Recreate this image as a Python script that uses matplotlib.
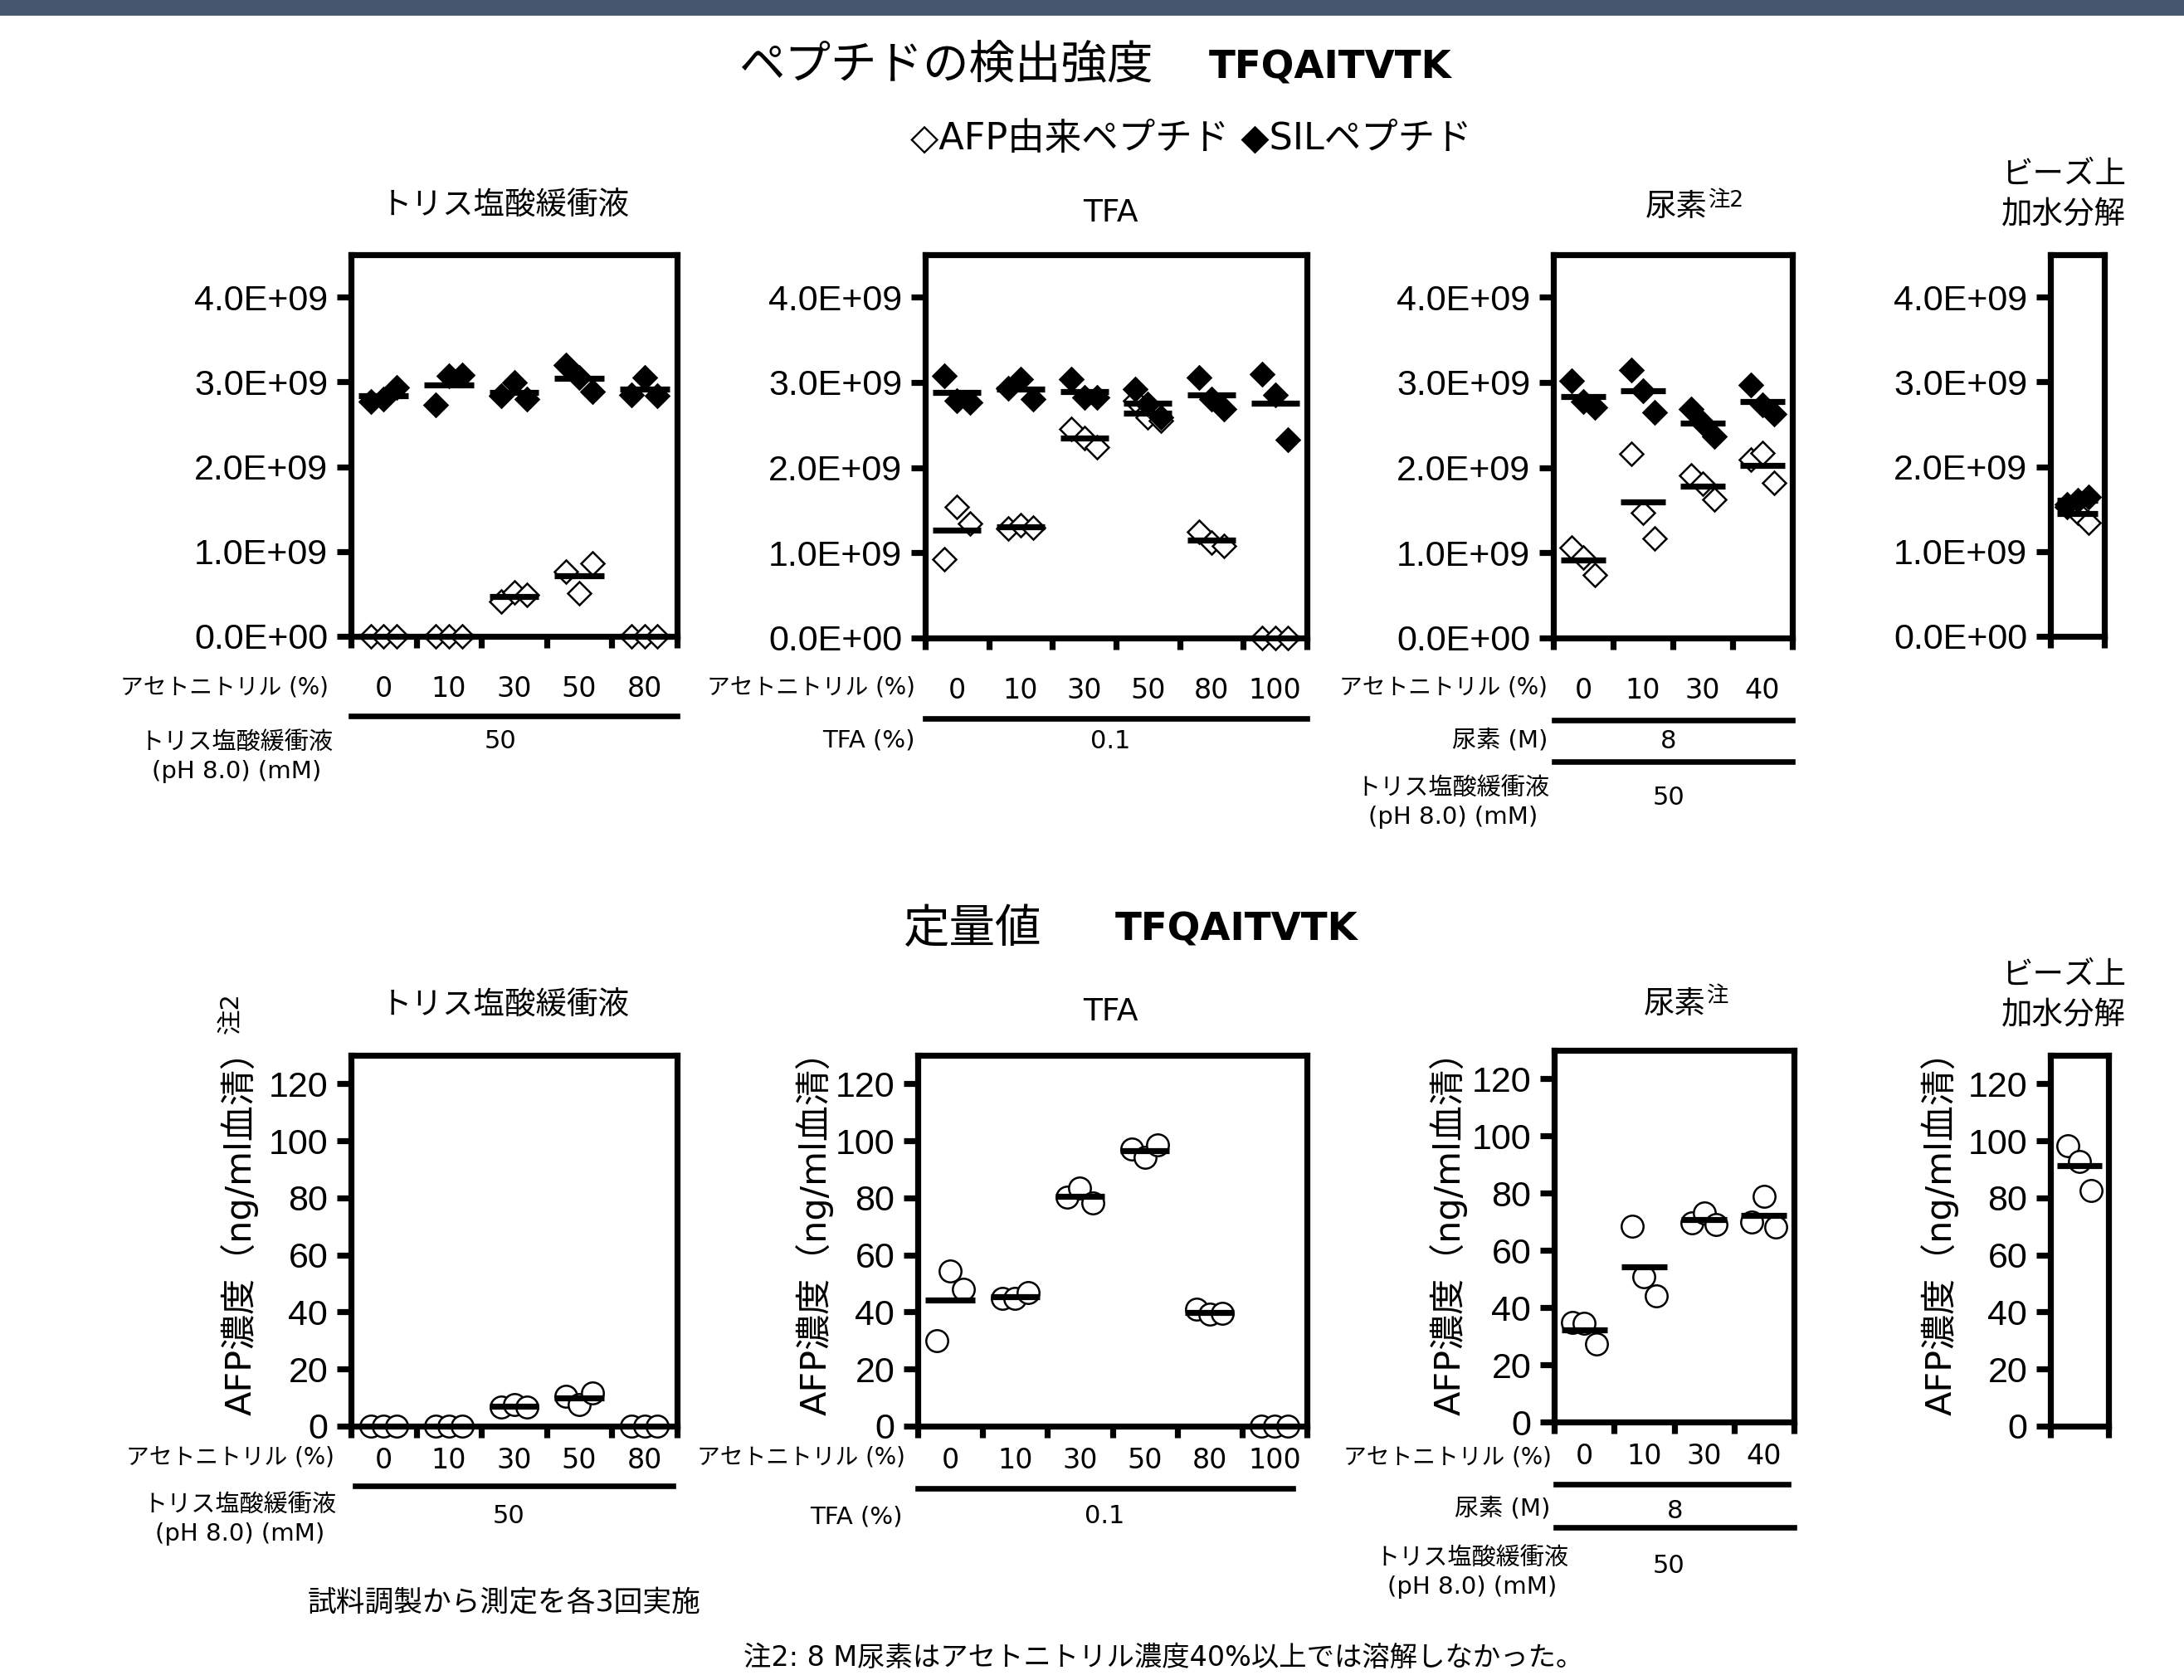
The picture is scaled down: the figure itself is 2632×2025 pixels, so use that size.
import numpy as np
import matplotlib
matplotlib.use("Agg")
import matplotlib.pyplot as plt
from matplotlib.patches import Rectangle

plt.rcParams['font.family'] = ['DejaVu Sans', 'Noto Sans CJK JP']

# ---- data (top row: peptide intensity, x1e9) ----
tris_cats = ['0', '10', '30', '50', '80']
tris_sil = [[2.77, 2.80, 2.93], [2.73, 3.07, 3.08], [2.84, 2.99, 2.80], [3.20, 3.05, 2.89], [2.85, 3.05, 2.84]]
tris_afp = [[0, 0, 0], [0, 0, 0], [0.41, 0.52, 0.49], [0.76, 0.51, 0.86], [0, 0, 0]]

tfa_cats = ['0', '10', '30', '50', '80', '100']
tfa_sil = [[3.08, 2.79, 2.77], [2.93, 3.04, 2.81], [3.04, 2.82, 2.82], [2.92, 2.75, 2.59], [3.06, 2.81, 2.69], [3.10, 2.85, 2.33]]
tfa_afp = [[0.93, 1.54, 1.34], [1.29, 1.32, 1.30], [2.45, 2.35, 2.24], [2.79, 2.59, 2.55], [1.25, 1.12, 1.08], [0, 0, 0]]

urea_cats = ['0', '10', '30', '40']
urea_sil = [[3.02, 2.78, 2.71], [3.15, 2.90, 2.65], [2.69, 2.52, 2.37], [2.97, 2.74, 2.63]]
urea_afp = [[1.06, 0.94, 0.74], [2.16, 1.47, 1.17], [1.91, 1.81, 1.63], [2.09, 2.17, 1.82]]

bead_sil = [[1.56, 1.60, 1.64]]
bead_afp = [[1.53, 1.46, 1.34]]

# ---- data (bottom row: AFP ng/ml) ----
tris_conc = [[0, 0, 0], [0, 0, 0], [6.7, 7.6, 6.7], [10.6, 7.6, 11.6], [0, 0, 0]]
tfa_conc = [[30.0, 54.5, 48.0], [44.7, 44.7, 46.7], [80.3, 83.5, 78.3], [97.0, 94.2, 98.5], [40.9, 39.2, 39.5], [0, 0, 0]]
urea_conc = [[34.8, 34.5, 27.4], [68.5, 50.7, 44.0], [69.7, 73.1, 69.2], [70.0, 78.8, 68.1]]
bead_conc = [[98.4, 92.9, 82.7]]

W, H = 2632, 2025
DPI = 200
fig = plt.figure(figsize=(W / DPI, H / DPI), dpi=DPI)
fig.patches.append(Rectangle((0, 1 - 17 / H), 1, 17 / H, transform=fig.transFigure,
                             color='#46566e', zorder=0))


def ftext(x, y, s, size, ha='center', va='center', **kw):
    fig.text(x / W, 1 - y / H, s, fontsize=size, ha=ha, va=va, **kw)


def hline(x0, x1, y, lw=2.4):
    fig.add_artist(plt.Line2D([x0 / W, x1 / W], [1 - y / H, 1 - y / H], color='black', lw=lw))


def make_ax(left, right, top, bottom):
    return fig.add_axes([left / W, 1 - bottom / H, (right - left) / W, (bottom - top) / H])


offs = np.array([-0.2, 0.0, 0.2])
LW = 2.6


def style_ax(ax, n, cats, ymax, yticks, fmt, mlabel_pad=6):
    ax.set_xlim(-0.5, n - 0.5)
    ax.set_ylim(0, ymax)
    for s in ax.spines.values():
        s.set_linewidth(LW)
    ax.set_xticks(np.arange(n + 1) - 0.5)
    ax.set_xticklabels([])
    ax.tick_params(axis='x', which='major', direction='out', length=5, width=LW)
    if cats is not None:
        ax.set_xticks(np.arange(n), minor=True)
        ax.set_xticklabels(cats, minor=True, fontsize=12)
        ax.tick_params(axis='x', which='minor', length=0, pad=mlabel_pad)
    ax.set_yticks(yticks)
    ax.set_yticklabels([fmt(v) for v in yticks], fontsize=15.5, family='Liberation Sans')
    ax.tick_params(axis='y', direction='out', length=6, width=LW, pad=4)


def draw_points(ax, groups, marker, face, ms, scale=1.0, z=3):
    for i, g in enumerate(groups):
        vals = np.array(g) * scale
        ax.plot(i + offs, vals, linestyle='none', marker=marker, ms=ms,
                mfc=face, mec='black', mew=0.9, clip_on=False, zorder=z)


def draw_means(ax, groups, scale=1.0, half=0.38):
    for i, g in enumerate(groups):
        m = np.mean(g) * scale
        ax.plot([i - half, i + half], [m, m], color='black', lw=2.6, solid_capstyle='butt',
                clip_on=False, zorder=5)


def top_panel(box, cats, sil, afp, show_cats=True):
    ax = make_ax(*box)
    n = len(sil)
    draw_points(ax, afp, 'D', 'white', 7.0, 1e9, z=3)
    draw_points(ax, sil, 'D', 'black', 7.0, 1e9, z=4)
    draw_means(ax, afp, 1e9)
    draw_means(ax, sil, 1e9)
    style_ax(ax, n, cats if show_cats else None, 4.5e9, [0, 1e9, 2e9, 3e9, 4e9],
             lambda v: '{:.1E}'.format(v), mlabel_pad=17)
    return ax


def bottom_panel(box, cats, conc, show_cats=True):
    ax = make_ax(*box)
    n = len(conc)
    draw_points(ax, conc, 'o', 'white', 9.5)
    draw_means(ax, conc)
    style_ax(ax, n, cats if show_cats else None, 130, [0, 20, 40, 60, 80, 100, 120],
             lambda v: '{:d}'.format(int(v)), mlabel_pad=9)
    return ax


# ---------------- top row ----------------
ftext(890, 79, 'ペプチドの検出強度', 20, ha='left')
ftext(1457, 82, 'TFQAITVTK', 16.8, ha='left', weight='bold')
ftext(1435, 168, '◇AFP由来ペプチド ◆SILペプチド', 16)

top_panel((423, 816, 307, 767), tris_cats, tris_sil, tris_afp)
top_panel((1115, 1575, 307, 769), tfa_cats, tfa_sil, tfa_afp)
top_panel((1872, 2160, 307, 769), urea_cats, urea_sil, urea_afp)
top_panel((2471, 2536, 307, 767), None, bead_sil, bead_afp, show_cats=False)

ftext(609, 248, 'トリス塩酸緩衝液', 13.5)
ftext(1338, 257, 'TFA', 13.5)
ftext(2058, 250, '尿素', 13.5, ha='right')
ftext(2058, 243, '注2', 9.5, ha='left')
ftext(2412, 235, 'ビーズ上\n加水分解', 13.5, ha='left', linespacing=1.45)

# condition rows, top
ftext(396, 828, 'アセトニトリル (%)', 10, ha='right')
hline(423, 816, 863)
ftext(285, 913, 'トリス塩酸緩衝液\n(pH 8.0) (mM)', 10.5, linespacing=1.3)
ftext(603, 893, '50', 11)

ftext(1103, 828, 'アセトニトリル (%)', 10, ha='right')
hline(1115, 1575, 866)
ftext(1103, 893, 'TFA (%)', 10.5, ha='right')
ftext(1338, 893, '0.1', 11)

ftext(1865, 828, 'アセトニトリル (%)', 10, ha='right')
hline(1873, 2160, 868)
ftext(1865, 893, '尿素 (M)', 10.5, ha='right')
ftext(2011, 893, '8', 11)
hline(1873, 2160, 918)
ftext(1751, 968, 'トリス塩酸緩衝液\n(pH 8.0) (mM)', 10.5, linespacing=1.3)
ftext(2011, 962, '50', 11)

# ---------------- bottom row ----------------
ftext(1088, 1121, '定量値', 20, ha='left')
ftext(1344, 1121, 'TFQAITVTK', 16.8, ha='left', weight='bold')

b1 = bottom_panel((423, 816, 1272, 1719), tris_cats, tris_conc)
b2 = bottom_panel((1106, 1575, 1272, 1719), tfa_cats, tfa_conc)
b3 = bottom_panel((1873, 2162, 1266, 1714), urea_cats, urea_conc)
b4 = bottom_panel((2471, 2541, 1272, 1719), None, bead_conc, show_cats=False)

ylab = 'AFP濃度（ng/ml血清）'
for xp in (289, 982, 1746, 2338):
    ftext(xp, 1476, ylab, 15.5, rotation=90)
ftext(279, 1221, '注2', 11, rotation=90)

ftext(609, 1212, 'トリス塩酸緩衝液', 13.5)
ftext(1338, 1220, 'TFA', 13.5)
ftext(2056, 1211, '尿素', 13.5, ha='right')
ftext(2056, 1202, '注', 9.5, ha='left')
ftext(2412, 1200, 'ビーズ上\n加水分解', 13.5, ha='left', linespacing=1.45)

ftext(403, 1756, 'アセトニトリル (%)', 10, ha='right')
hline(428, 811, 1791)
ftext(289, 1832, 'トリス塩酸緩衝液\n(pH 8.0) (mM)', 10.5, linespacing=1.3)
ftext(613, 1828, '50', 11)
ftext(608, 1932, '試料調製から測定を各3回実施', 12.5)

ftext(1091, 1757, 'アセトニトリル (%)', 10, ha='right')
hline(1106, 1558, 1794)
ftext(1088, 1828, 'TFA (%)', 10.5, ha='right')
ftext(1331, 1828, '0.1', 11)

ftext(1870, 1757, 'アセトニトリル (%)', 10, ha='right')
hline(1875, 2155, 1789)
ftext(1868, 1818, '尿素 (M)', 10.5, ha='right')
ftext(2019, 1821, '8', 11)
hline(1875, 2162, 1841)
ftext(1774, 1896, 'トリス塩酸緩衝液\n(pH 8.0) (mM)', 10.5, linespacing=1.3)
ftext(2011, 1887, '50', 11)

ftext(1402, 1998, '注2: 8 M尿素はアセトニトリル濃度40%以上では溶解しなかった。', 12)

fig.savefig('out.png', dpi=DPI, facecolor='white')
